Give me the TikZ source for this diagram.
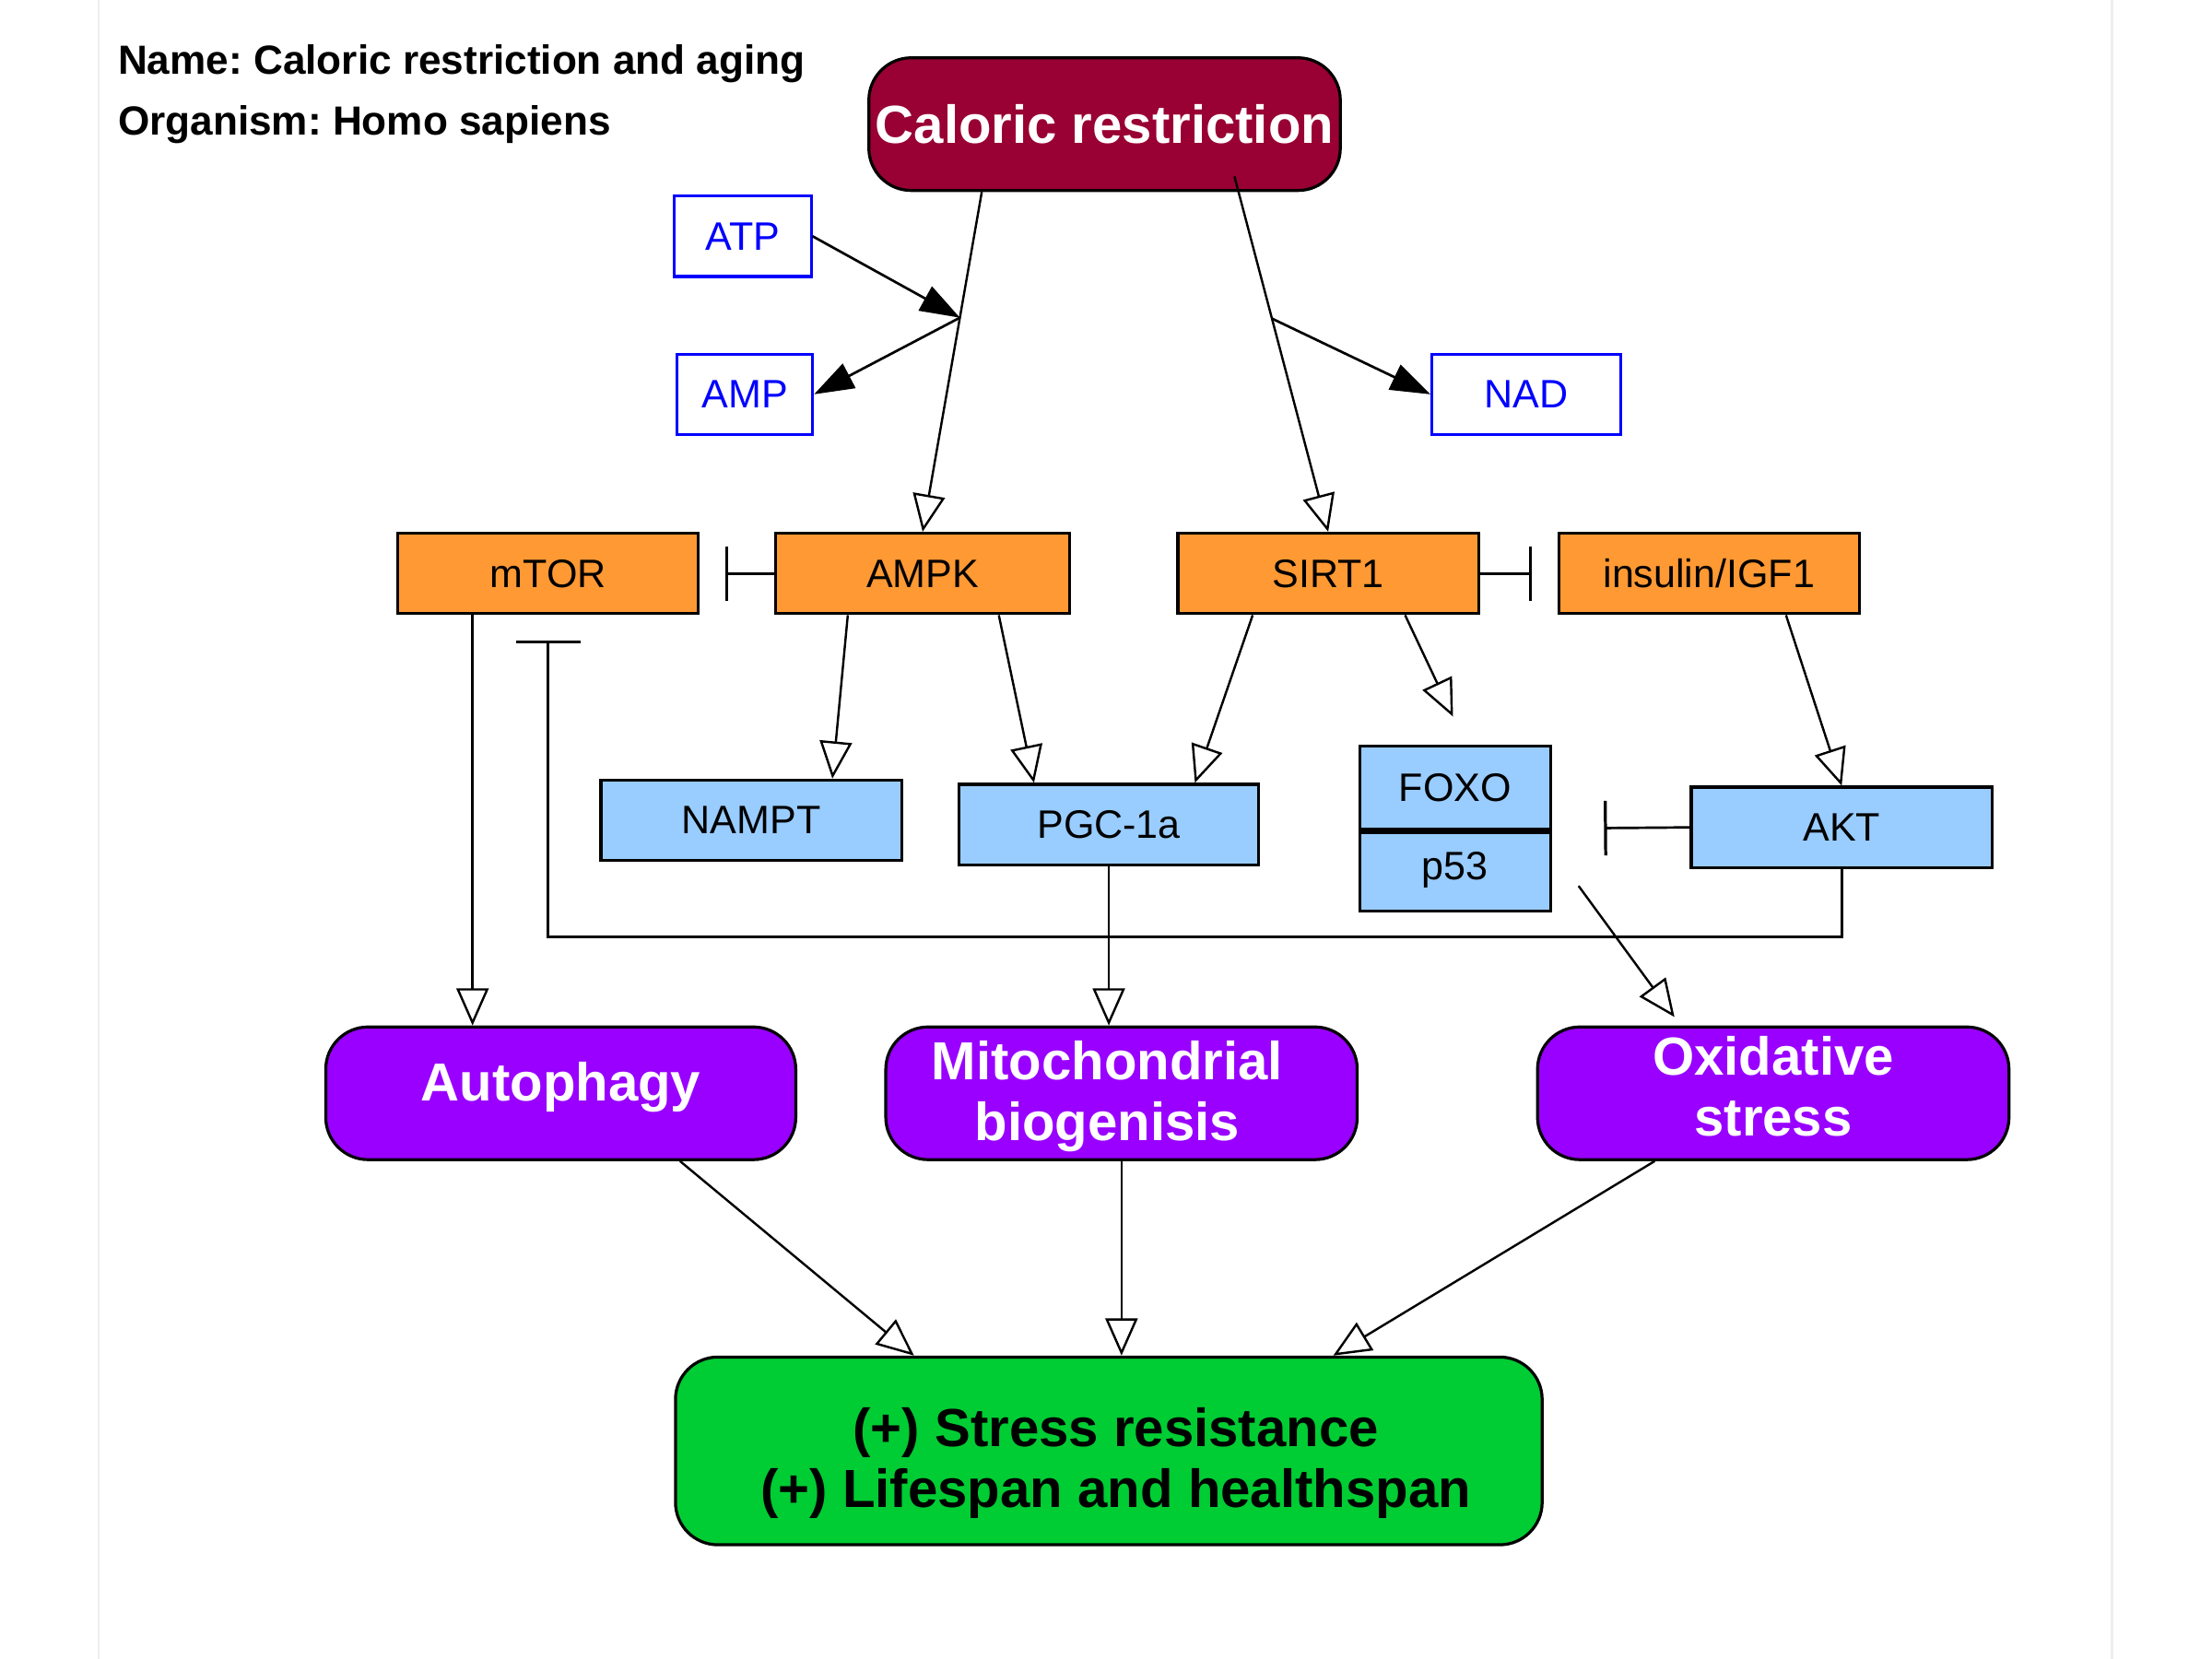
\documentclass[tikz,border=0pt]{standalone}
\usepackage{fontspec}
\setmainfont{Liberation Sans}
\usetikzlibrary{calc,arrows.meta}
\frenchspacing
\definecolor{crRed}{RGB}{153,0,51}
\definecolor{geneOrange}{RGB}{255,153,51}
\definecolor{geneBlue}{RGB}{153,204,255}
\definecolor{procPurple}{RGB}{153,0,255}
\definecolor{outGreen}{RGB}{0,204,51}
\definecolor{metBlue}{RGB}{0,0,255}
\definecolor{frameGray}{RGB}{238,238,238}
\newcommand{\NudgeText}[3]{\hspace*{#1}\raisebox{#2}[\height][\depth]{\begin{tabular}{@{}c@{}}#3\end{tabular}}\hspace*{-#1}}
\tikzset{
  geneBox/.style={draw=black,line width=0.6pt,minimum width=2.13cm,minimum height=0.57cm,inner sep=0pt,font=\fontsize{8}{9.6}\selectfont},
  metBox/.style={draw=metBlue,fill=white,text=metBlue,line width=0.6pt,minimum height=0.57cm,inner sep=0pt,font=\fontsize{8}{9.6}\selectfont},
  bigBox/.style={draw=black,rounded corners=0.3cm,line width=0.6pt,minimum width=3.34cm,minimum height=0.94cm,inner sep=0pt,align=center,font=\bfseries\fontsize{10.8}{12.2}\selectfont},
  procBox/.style={bigBox,fill=procPurple,text=white},
  headText/.style={anchor=west,inner sep=0pt,font=\bfseries\fontsize{8.2}{9.8}\selectfont},
  act/.style={-{Triangle[open,length=7.5pt,width=6.5pt]},line width=0.45pt},
  conv/.style={-{Triangle[length=8pt,width=5.5pt]},line width=0.5pt},
  inh/.style={-{Bar[width=11pt,line width=0.6pt]},line width=0.5pt}
}
\begin{document}
\begin{tikzpicture}[x=0.01cm,y=-0.01cm]
\useasboundingbox (0,0) rectangle (1568,1176);
\draw[frameGray,line width=0.5pt] (70,0) -- (70,1176) (1497,0) -- (1497,1176);

\node[headText] (title) at (83,45) {Name: Caloric restriction and aging};
\node[headText] (org) at (83,88) {Organism: Homo sapiens};

\node[bigBox,fill=crRed,text=white] (cr) at (783,88) {Caloric restriction};
\node[metBox,minimum width=0.97cm] (atp) at (526.5,167.5) {ATP};
\node[metBox,minimum width=0.96cm] (amp) at (528,279.5) {AMP};
\node[metBox,minimum width=1.34cm] (nad) at (1082,279.5) {NAD};

\node[geneBox,fill=geneOrange] (mtor) at (388.5,406.5) {mTOR};
\node[geneBox,fill=geneOrange,minimum width=2.08cm] (ampk) at (654,406.5) {AMPK};
\node[geneBox,fill=geneOrange] (sirt) at (941.5,406.5) {SIRT1};
\node[geneBox,fill=geneOrange] (ins) at (1211.5,406.5) {insulin/IGF1};

\node[geneBox,fill=geneBlue] (nampt) at (532.5,581.5) {NAMPT};
\node[geneBox,fill=geneBlue,minimum width=2.12cm] (pgc) at (786,584.5) {PGC-1a};
\node[geneBox,fill=geneBlue,minimum width=1.35cm,minimum height=0.59cm] (foxo) at (1031.5,558.5) {FOXO};
\node[geneBox,fill=geneBlue,minimum width=1.35cm,minimum height=0.58cm] (p53) at (1031.5,617) {p53};
\draw[line width=1.4pt] (foxo.south west) -- (foxo.south east);
\node[geneBox,fill=geneBlue] (akt) at (1305.5,586.5) {AKT};

\node[procBox,minimum width=3.33cm] (auto) at (397.5,775) {\NudgeText{0pt}{0.03cm}{Autophagy}};
\node[procBox] (mito) at (795,775) {\NudgeText{-0.1cm}{-0.035cm}{Mitochondrial\\biogenisis}};
\node[procBox] (oxi) at (1257,775) {\NudgeText{0pt}{0pt}{Oxidative\\stress}};
\node[bigBox,fill=outGreen,minimum width=6.14cm,minimum height=1.33cm] (out) at (786,1028.5) {\NudgeText{0.05cm}{-0.1cm}{(+) Stress resistance\\(+) Lifespan and healthspan}};

\coordinate (crA) at ([xshift=-0.87cm]cr.south);
\coordinate (crS) at ([xshift=0.92cm,yshift=0.11cm]cr.south);
\coordinate (jA) at ($(crA)!0.37!(ampk.north)$);
\coordinate (jS) at ($(crS)!0.40!(sirt.north)$);
\coordinate (foxoIn) at (1030,508);
\coordinate (p53Out) at (1119,628);
\coordinate (aktBar) at (1137,587);

\draw[act] (crA) -- (ampk.north);
\draw[act] (crS) -- (sirt.north);
\draw[conv] (atp.east) -- (jA);
\draw[conv] (jA) -- (amp.east);
\draw[conv] (jS) -- (nad.west);

\draw[inh] (ampk.west) -- ([xshift=0.18cm]mtor.east);
\draw[inh] (sirt.east) -- ([xshift=-0.18cm]ins.west);

\draw[act] ([xshift=-0.53cm]ampk.south) -- ([xshift=0.575cm]nampt.north);
\draw[act] ([xshift=0.54cm]ampk.south) -- ([xshift=-0.53cm]pgc.north);
\draw[act] ([xshift=-0.535cm]sirt.south) -- ([xshift=0.61cm]pgc.north);
\draw[act] ([xshift=0.545cm]sirt.south) -- (foxoIn);
\draw[act] ([xshift=0.545cm]ins.south) -- (akt.north);
\draw[inh] (akt.west) -- (aktBar);
\draw[inh,-{Bar[width=13pt,line width=0.6pt]}] (akt.south) -- (akt.south |- 0,664) -| ([yshift=-0.18cm]mtor.south);

\draw[act] ([xshift=-0.535cm]mtor.south) -- ([xshift=-0.535cm]mtor.south |- auto.north);
\draw[act] (pgc.south) -- (pgc.south |- mito.north);
\draw[act] (p53Out) -- ([xshift=-0.70cm,yshift=0.06cm]oxi.north);

\draw[act] ([xshift=0.845cm]auto.south) -- ([xshift=-1.38cm]out.north);
\draw[act] (mito.south) -- (mito.south |- out.north);
\draw[act] ([xshift=-0.84cm]oxi.south) -- ([xshift=1.59cm]out.north);
\end{tikzpicture}
\end{document}
